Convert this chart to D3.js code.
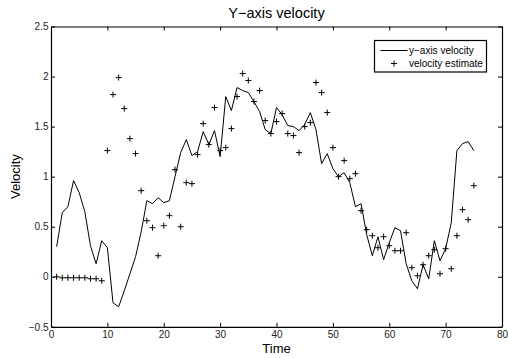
<!DOCTYPE html>
<html>
<head>
<meta charset="utf-8">
<script src="https://cdn.jsdelivr.net/npm/d3@7"></script>
<style>
    body { margin: 0; background: #fff; }
    svg text { font-family: "Liberation Sans", Arial, Helvetica, sans-serif; fill: #000; }
</style>
</head>
<body>
<svg id="chart" width="508" height="358"></svg>
<script>
const time = [1, 2, 3, 4, 5, 6, 7, 8, 9, 10, 11, 12, 13, 14, 15, 16, 17, 18, 19, 20,
    21, 22, 23, 24, 25, 26, 27, 28, 29, 30, 31, 32, 33, 34, 35, 36, 37, 38, 39, 40,
    41, 42, 43, 44, 45, 46, 47, 48, 49, 50, 51, 52, 53, 54, 55, 56, 57, 58, 59, 60,
    61, 62, 63, 64, 65, 66, 67, 68, 69, 70, 71, 72, 73, 74, 75];

const yVelocity = [0.30, 0.64, 0.70, 0.96, 0.84, 0.65, 0.31, 0.13, 0.36, 0.29,
    -0.26, -0.30, -0.14, 0.03, 0.20, 0.45, 0.76, 0.73, 0.79, 0.74,
    0.76, 1.00, 1.24, 1.37, 1.21, 1.25, 1.45, 1.32, 1.46, 1.20,
    1.80, 1.66, 1.89, 1.86, 1.84, 1.75, 1.65, 1.47, 1.43, 1.69,
    1.62, 1.51, 1.50, 1.46, 1.52, 1.64, 1.47, 1.13, 1.23, 1.08,
    1.00, 1.04, 0.94, 0.70, 0.73, 0.42, 0.21, 0.40, 0.17, 0.34,
    0.49, 0.46, 0.13, -0.04, -0.12, 0.12, -0.02, 0.36, 0.16, 0.28,
    0.54, 1.26, 1.33, 1.35, 1.26];

const velocityEstimate = [0.00, -0.01, -0.01, -0.01, -0.01, -0.01, -0.02, -0.02, -0.04, 1.26,
    1.82, 1.99, 1.68, 1.38, 1.23, 0.86, 0.56, 0.49, 0.21, 0.51,
    0.61, 1.07, 0.50, 0.94, 0.93, 1.22, 1.53, 1.32, 1.69, 1.26,
    1.29, 1.48, 1.80, 2.03, 1.96, 1.75, 1.86, 1.56, 1.43, 1.55,
    1.63, 1.43, 1.41, 1.24, 1.50, 1.54, 1.94, 1.84, 1.64, 1.29,
    1.00, 1.16, 0.98, 1.03, 0.66, 0.47, 0.41, 0.29, 0.40, 0.31,
    0.26, 0.26, 0.44, 0.09, 0.01, 0.12, 0.21, 0.27, 0.03, 0.28,
    0.08, 0.41, 0.67, 0.57, 0.91];

const xTicks = [0, 10, 20, 30, 40, 50, 60, 70, 80];
const yTicks = [-0.5, 0, 0.5, 1, 1.5, 2, 2.5];
const legendLabels = ["y\u2212axis velocity", "velocity estimate"];

const svg = d3.select("#chart");
const plotLeft = 51, plotRight = 502, plotTop = 26.5, plotBottom = 326.8;

const xScale = d3.scaleLinear().domain([0, 80]).range([plotLeft, plotRight]);
const yScale = d3.scaleLinear().domain([-0.5, 2.5]).range([plotBottom, plotTop]);

// axes, ticks pointing inward on all four sides
const axisFont = g => g.selectAll("text")
    .style("font-size", "10px")
    .style("fill", "#222");

svg.append("g")
    .attr("transform", `translate(0,${plotBottom})`)
    .call(d3.axisBottom(xScale).tickValues(xTicks).tickSizeInner(-4).tickSizeOuter(0).tickPadding(4.5))
    .call(axisFont);

svg.append("g")
    .attr("transform", `translate(0,${plotTop})`)
    .call(d3.axisTop(xScale).tickValues(xTicks).tickSizeInner(-4).tickSizeOuter(0).tickFormat(""));

svg.append("g")
    .attr("transform", `translate(${plotLeft},0)`)
    .call(d3.axisLeft(yScale).tickValues(yTicks).tickSizeInner(-4).tickSizeOuter(0).tickPadding(2.5)
        .tickFormat(d => d < 0 ? "\u2212" + Math.abs(d) : d))
    .call(axisFont);

svg.append("g")
    .attr("transform", `translate(${plotRight},0)`)
    .call(d3.axisRight(yScale).tickValues(yTicks).tickSizeInner(-4).tickSizeOuter(0).tickFormat(""));

svg.selectAll(".domain").attr("stroke", "#000").attr("stroke-width", 1.2);
svg.selectAll(".tick line").attr("stroke", "#000");

// line series
const line = d3.line()
    .x((d, i) => xScale(time[i]))
    .y(d => yScale(d));

svg.append("path")
    .datum(yVelocity)
    .attr("fill", "none")
    .attr("stroke", "#000")
    .attr("stroke-width", 1)
    .attr("d", line);

// plus markers
const cross = (x, y, r) => `M${x - r},${y}H${x + r}M${x},${y - r}V${y + r}`;

svg.append("path")
    .attr("fill", "none")
    .attr("stroke", "#000")
    .attr("stroke-width", 1)
    .attr("d", velocityEstimate.map((v, i) => cross(xScale(time[i]), yScale(v), 3)).join(""));

// title and axis labels
svg.append("text")
    .attr("x", (plotLeft + plotRight) / 2)
    .attr("y", 17.5)
    .attr("text-anchor", "middle")
    .style("font-size", "14.5px")
    .text("Y\u2212axis velocity");

svg.append("text")
    .attr("x", (plotLeft + plotRight) / 2)
    .attr("y", 353)
    .attr("text-anchor", "middle")
    .style("font-size", "13px")
    .text("Time");

svg.append("text")
    .attr("transform", `translate(20,${(plotTop + plotBottom) / 2}) rotate(-90)`)
    .attr("text-anchor", "middle")
    .style("font-size", "13px")
    .text("Velocity");

// legend
const legend = svg.append("g").attr("transform", "translate(374.5,40.5)");

legend.append("rect")
    .attr("width", 112)
    .attr("height", 31.5)
    .attr("fill", "#fff")
    .attr("stroke", "#000")
    .attr("stroke-width", 1.2);

legend.append("line")
    .attr("x1", 6).attr("x2", 33)
    .attr("y1", 10).attr("y2", 10)
    .attr("stroke", "#000");

legend.append("path")
    .attr("fill", "none")
    .attr("stroke", "#000")
    .attr("d", cross(19.5, 23, 3));

legend.selectAll(".legend-item")
    .data(legendLabels)
    .enter().append("text")
    .attr("class", "legend-item")
    .attr("x", 34.5)
    .attr("y", (d, i) => 13.2 + i * 12.8)
    .style("font-size", "10px")
    .text(d => d);
</script>
</body>
</html>
